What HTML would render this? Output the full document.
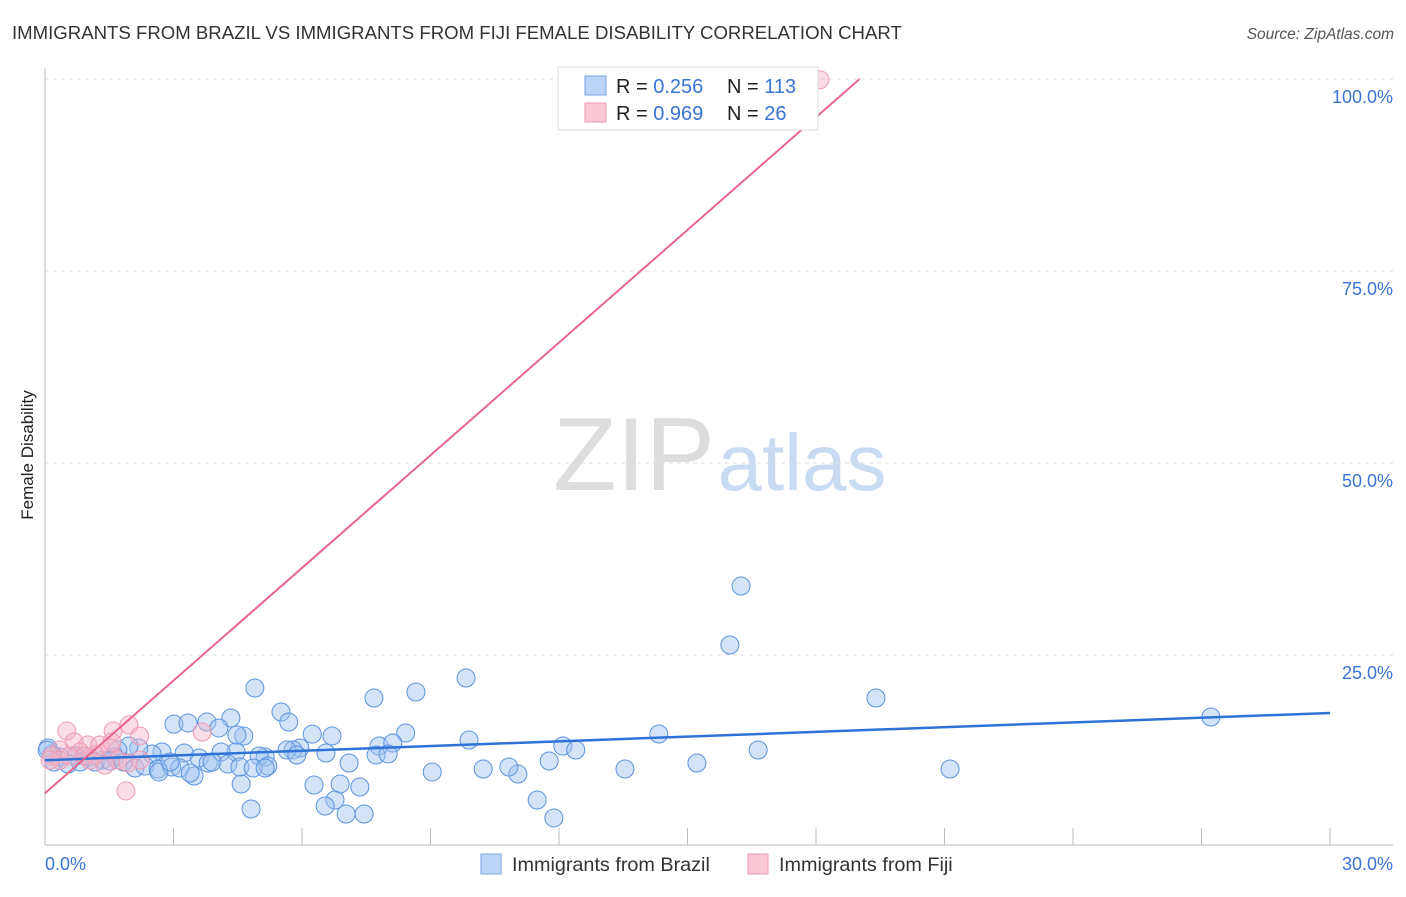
<!DOCTYPE html>
<html><head><meta charset="utf-8"><style>
body{margin:0;background:#fff;font-family:"Liberation Sans",sans-serif}
svg text{font-family:"Liberation Sans",sans-serif}
</style></head><body>
<svg id="chart" width="1406" height="892" xmlns="http://www.w3.org/2000/svg">
<text x="12" y="39" font-size="18.6" fill="#333">IMMIGRANTS FROM BRAZIL VS IMMIGRANTS FROM FIJI FEMALE DISABILITY CORRELATION CHART</text>
<text x="1394" y="39" font-size="15.5" fill="#555" font-style="italic" text-anchor="end">Source: ZipAtlas.com</text>
<text x="33" y="455" font-size="17" fill="#222" transform="rotate(-90 33 455)" text-anchor="middle">Female Disability</text>
<g><text x="634" y="490" font-size="104" fill="#ddd" font-family="Liberation Serif" text-anchor="middle">ZIP</text><text x="802" y="490" font-size="80" fill="#c9daf3" text-anchor="middle">atlas</text></g>
<g id="grid"></g><g id="axes"></g><g id="marks"></g>
<g>
<rect x="558" y="67" width="260" height="63" fill="#fff" stroke="#ddd"/>
<rect x="585" y="76" width="21" height="19" fill="#bcd4f5" stroke="#7aa6e6"/>
<rect x="585" y="103" width="21" height="19" fill="#f8c8d6" stroke="#ee9ab3"/>
<text x="616" y="93" font-size="20" fill="#222">R = <tspan fill="#3a74d4">0.256</tspan></text>
<text x="727" y="93" font-size="20" fill="#222">N = <tspan fill="#3a74d4">113</tspan></text>
<text x="616" y="120" font-size="20" fill="#222">R = <tspan fill="#3a74d4">0.969</tspan></text>
<text x="727" y="120" font-size="20" fill="#222">N = <tspan fill="#3a74d4"> 26</tspan></text>
</g>
<g>
<rect x="481" y="854" width="20" height="20" fill="#bcd4f5" stroke="#7aa6e6"/>
<text x="512" y="871" font-size="19.8" fill="#333">Immigrants from Brazil</text>
<rect x="748" y="854" width="20" height="20" fill="#f8c8d6" stroke="#ee9ab3"/>
<text x="779" y="871" font-size="19.8" fill="#333">Immigrants from Fiji</text>
</g>
</svg>
<script>
const yTicks=[25,50,75,100];
const yTickLabels=["25.0%","50.0%","75.0%","100.0%"];
const xTickLabels=["0.0%","30.0%"];
const brazilX=[16.25,15.99,19.40,27.22,9.83,8.66,4.90,7.68,5.51,3.01,3.34,3.78,4.34,5.69,4.06,4.64,6.24,6.70,8.42,9.90,14.33,12.09,12.39,16.65,21.13,15.22,13.54,11.77,11.04,10.83,10.23,9.04,11.49,11.88,7.35,6.89,6.28,6.77,6.54,7.03,7.45,4.58,4.81,3.48,7.80,8.12,7.73,8.01,7.10,6.56,5.95,5.79,5.65,5.88,5.14,5.00,5.20,4.46,4.11,3.60,3.81,3.90,3.25,2.73,2.50,2.19,1.96,1.70,1.63,1.35,1.03,0.72,0.35,0.16,0.07,0.21,0.54,0.82,1.17,1.52,1.84,2.10,2.33,2.64,2.96,3.15,3.39,4.27,4.55,4.86,5.14,2.66,2.92,4.48,0.05];
const brazilY=[33.98,26.30,19.40,16.93,22.0,20.18,20.70,19.40,17.58,16.0,16.15,16.27,16.8,16.27,15.5,14.45,14.7,14.45,14.84,13.93,14.71,13.15,12.63,12.63,10.16,10.94,10.16,11.2,9.5,10.42,10.16,9.77,6.12,3.78,7.81,8.2,8.07,6.12,5.34,4.30,4.30,8.2,4.95,9.24,13.15,13.54,11.98,12.11,10.94,12.24,12.89,12.63,12.63,11.98,11.72,11.85,10.55,12.37,12.37,11.59,10.94,11.07,12.24,12.37,12.11,12.89,13.15,12.63,11.72,11.33,11.72,11.85,11.72,12.11,12.89,11.07,10.81,11.07,11.07,11.2,11.07,10.29,10.55,10.16,10.42,10.29,9.63,10.81,10.42,10.29,10.29,9.77,11.07,14.58,12.6];
const fijiX=[18.09,0.51,1.96,1.59,2.21,3.67,1.89,0.68,1.0,1.28,1.52,0.35,0.16,0.82,1.17,1.70,1.40,1.94,2.22,0.35,0.58,1.05,1.56,0.93,0.12];
const fijiY=[99.9,15.1,15.9,15.1,14.45,14.97,7.3,13.67,13.28,13.28,12.89,12.63,11.85,12.37,11.98,11.33,10.68,10.94,11.33,11.33,11.85,11.33,13.67,11.85,11.33];
const brazilTrend=[11.3,17.45];
const fijiTrend=[7.0,4.89];
const X0=45,X1=1330,Y0=847,Y1=79;
const sx=v=>X0+(v/30)*(X1-X0);
const sy=v=>Y0-(v/100)*(Y0-Y1);
const NS="http://www.w3.org/2000/svg";
function mk(tag,attrs,parent){const e=document.createElementNS(NS,tag);for(const k in attrs)e.setAttribute(k,attrs[k]);parent.appendChild(e);return e;}
const grid=document.getElementById('grid'),axes=document.getElementById('axes'),marks=document.getElementById('marks');
yTicks.forEach((t,i)=>{
 const l=mk('line',{x1:45,x2:1393,y1:sy(t),y2:sy(t),stroke:'#ddd','stroke-dasharray':'4,4'},grid);
 
 
 const tx=mk('text',{x:1393,y:sy(t)+24,'font-size':18,fill:'#3a74d4','text-anchor':'end'},axes);
 tx.textContent=yTickLabels[i];
 
 
});
mk('line',{x1:45,x2:45,y1:68,y2:845,stroke:'#bbb'},axes);
mk('line',{x1:45,x2:1393,y1:845,y2:845,stroke:'#bbb'},axes);
for(let i=1;i<=10;i++){const x=sx(i*3);const t=mk('line',{x1:x,x2:x,y1:828,y2:845,stroke:'#bbb'},axes);
 
 }
const xl0=mk('text',{x:45,y:870,'font-size':18,fill:'#3a74d4'},axes);xl0.textContent=xTickLabels[0];


const xl1=mk('text',{x:1393,y:870,'font-size':18,fill:'#3a74d4','text-anchor':'end'},axes);xl1.textContent=xTickLabels[1];


brazilX.forEach((v,i)=>{const c=mk('circle',{cx:sx(v),cy:sy(brazilY[i]),r:9,fill:'rgba(160,195,240,0.45)',stroke:'#5b93e0','stroke-width':1},marks);
 
 });
fijiX.forEach((v,i)=>{const c=mk('circle',{cx:sx(v),cy:sy(fijiY[i]),r:9,fill:'rgba(245,180,200,0.45)',stroke:'#ef9ab4','stroke-width':1},marks);
 
 });
const bt=mk('line',{x1:sx(0),y1:sy(brazilTrend[0]),x2:sx(30),y2:sy(brazilTrend[1]),stroke:'#2f72d6','stroke-width':2.5},marks);


const xe=(100-fijiTrend[0])/fijiTrend[1];
const ft=mk('line',{x1:sx(0),y1:sy(fijiTrend[0]),x2:sx(xe),y2:sy(100),stroke:'#e8668e','stroke-width':2},marks);


</script>
</body></html>
